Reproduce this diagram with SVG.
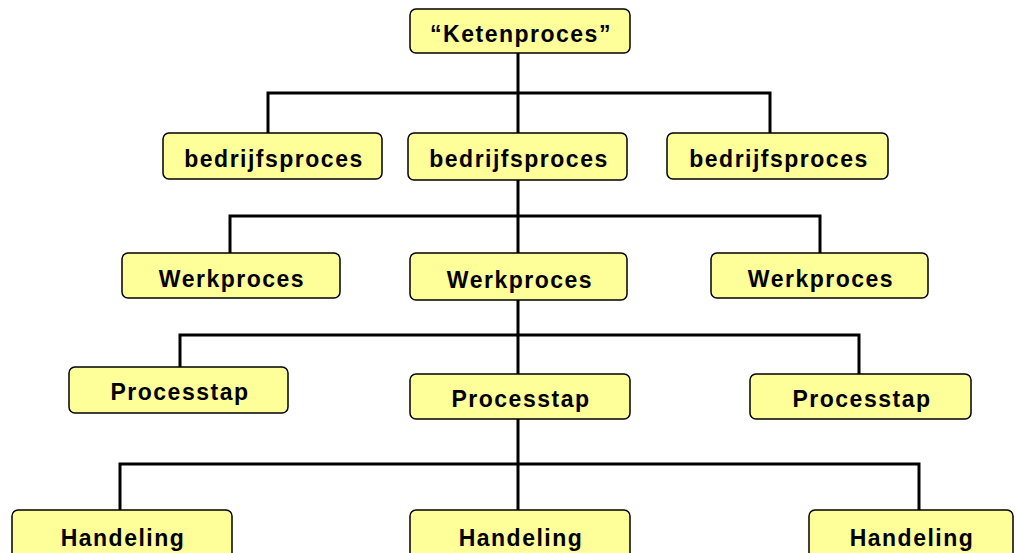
<svg xmlns="http://www.w3.org/2000/svg" width="1016" height="553" viewBox="0 0 1016 553">
<style>
.box{fill:#ffff99;stroke:#000;stroke-width:1.5}
.t{font-family:"Liberation Sans",Arial,sans-serif;font-weight:bold;font-size:23px;letter-spacing:1.5px;fill:#000;text-anchor:middle}
.c{fill:none;stroke:#000;stroke-width:3}
</style>
<rect width="1016" height="553" fill="#fff"/>
<g id="connectors">
<path class="c" d="M518 53V133M268 133V93H770V133"/>
<path class="c" d="M518 180V253M230 253V216H820V253"/>
<path class="c" d="M518 300V374M180 367V335H859V374"/>
<path class="c" d="M518 419V510M120 510V464H919V510"/>
</g>
<g id="n0"><rect class="box" x="410" y="9" width="220" height="44" rx="6"/><text class="t" x="521" y="42">“Ketenproces”</text></g>
<g id="b1"><rect class="box" x="163" y="133" width="219" height="46" rx="6"/><text class="t" x="274" y="167">bedrijfsproces</text></g>
<g id="b2"><rect class="box" x="408" y="133" width="219" height="47" rx="6"/><text class="t" x="519" y="167">bedrijfsproces</text></g>
<g id="b3"><rect class="box" x="667" y="133" width="221" height="46" rx="6"/><text class="t" x="779" y="167">bedrijfsproces</text></g>
<g id="w1"><rect class="box" x="122" y="253" width="218" height="45" rx="6"/><text class="t" x="232" y="287">Werkproces</text></g>
<g id="w2"><rect class="box" x="410" y="253" width="217" height="47" rx="6"/><text class="t" x="520" y="288">Werkproces</text></g>
<g id="w3"><rect class="box" x="711" y="253" width="217" height="45" rx="6"/><text class="t" x="821" y="287">Werkproces</text></g>
<g id="p1"><rect class="box" x="69" y="367" width="219" height="46" rx="6"/><text class="t" x="180" y="400">Processtap</text></g>
<g id="p2"><rect class="box" x="410" y="374" width="220" height="45" rx="6"/><text class="t" x="521" y="407">Processtap</text></g>
<g id="p3"><rect class="box" x="750" y="374" width="221" height="45" rx="6"/><text class="t" x="862" y="407">Processtap</text></g>
<g id="h1"><rect class="box" x="12" y="510" width="220" height="50" rx="6"/><text class="t" x="123" y="546">Handeling</text></g>
<g id="h2"><rect class="box" x="410" y="510" width="220" height="50" rx="6"/><text class="t" x="521" y="546">Handeling</text></g>
<g id="h3"><rect class="box" x="809" y="510" width="204" height="50" rx="6"/><text class="t" x="912" y="546">Handeling</text></g>
</svg>
